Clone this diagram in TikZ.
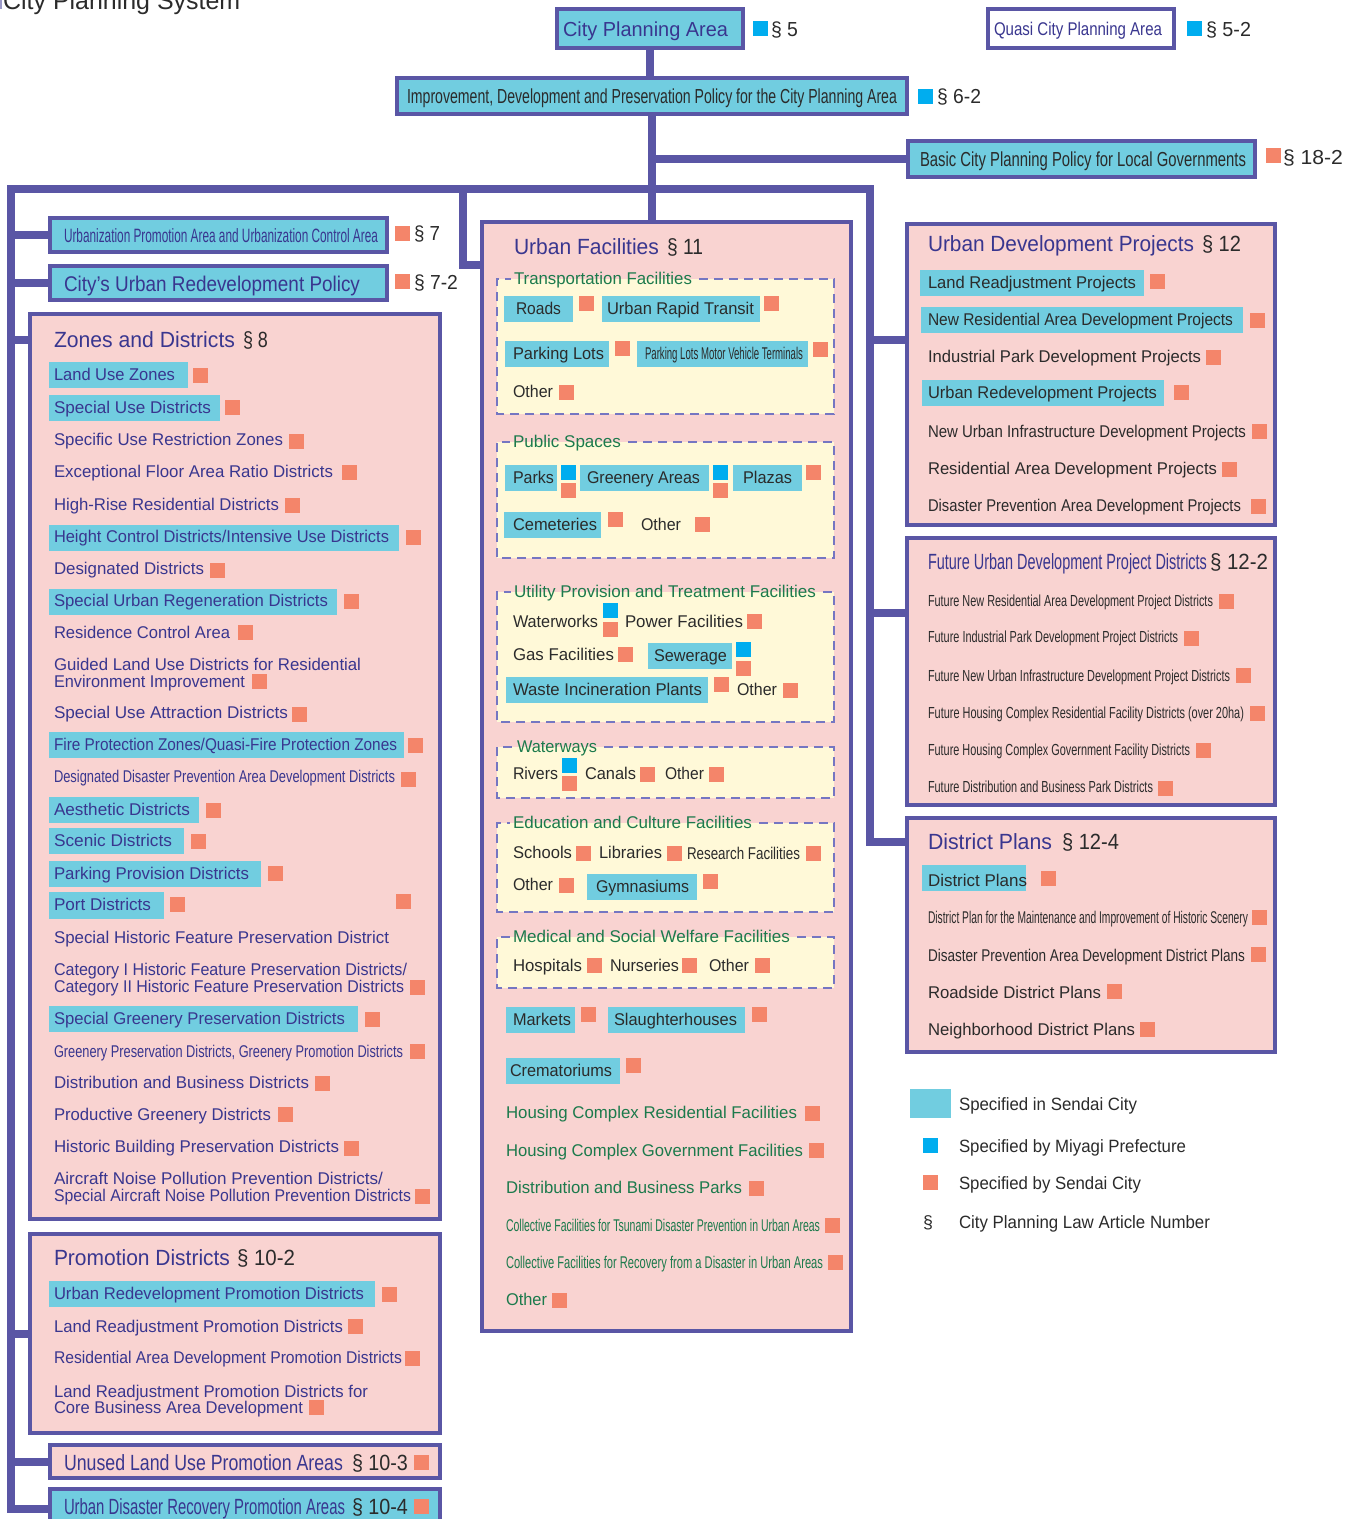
\documentclass[tikz,border=0pt]{standalone}
\usepackage{fontspec}
\setmainfont{Liberation Sans}
\usepackage{graphicx}
\definecolor{purp}{HTML}{5A56A5}
\definecolor{cyf}{HTML}{71CDE0}
\definecolor{pkf}{HTML}{F9D3D1}
\definecolor{org}{HTML}{F4856A}
\definecolor{blu}{HTML}{00ADEF}
\definecolor{ylf}{HTML}{FFF9D8}
\definecolor{dshc}{HTML}{7576C2}
\definecolor{nav}{HTML}{39368F}
\definecolor{grn}{HTML}{1C7A4C}
\definecolor{dk}{HTML}{2B2B2B}
\newcommand\W[2]{\resizebox{#1pt}{\height}{#2}}
\newcommand\osq[2]{\fill[org] (#1,#2) rectangle ++(15,15);}
\newcommand\bsq[2]{\fill[blu] (#1,#2) rectangle ++(15,15);}
\newcommand\hlr[4]{\fill[cyf] (#1,#2) rectangle (#3,#4);}
\newcommand\tn[6][itm]{\node[#1] (#2) at (#3,#4) {\W{#5}{#6}};}
\newcommand\grp[4]{\fill[ylf] (497,#1) rectangle (834,#2);
  \draw[dsh] (#4+7,#1) -- (834,#1) -- (834,#2) -- (497,#2) -- (497,#1) -- (#3-3,#1);}
\tikzset{
 fs/.style 2 args={inner sep=0pt, outer sep=0pt, anchor=west, font=\fontsize{#1}{#1}\selectfont, text height=#2pt, text depth=4pt},
 itm/.style={fs={17}{15.7}, text=nav},
 itd/.style={fs={17}{15.7}, text=dk},
 itg/.style={fs={17}{15.7}, text=grn},
 fut/.style={fs={16}{15}, text=dk},
 ttl/.style={fs={22}{19.2}, text=nav},
 ttd/.style={fs={22}{19.2}, text=dk},
 tpn/.style={fs={20.3}{18}, text=nav},
 tpd/.style={fs={20.3}{18}, text=dk},
 lg/.style={fs={17.8}{16.3}, text=dk},
 bx/.style={draw=purp, line width=4pt, inner sep=0pt, outer sep=0pt, anchor=north west},
 cn/.style={draw=purp, line width=8pt},
 dsh/.style={draw=dshc, line width=2pt, dash pattern=on 9pt off 6pt},
}
\begin{document}
\begin{tikzpicture}[x=1pt,y=-1pt]
\useasboundingbox (0,0) rectangle (1352,1519);
\clip (0,0) rectangle (1352,1519);
\fill[white] (0,0) rectangle (1352,1519);
% title
\fill[purp!60] (0,0) rectangle (2,9);
\node[font=\fontsize{25}{25}\selectfont, inner sep=0pt, anchor=base west, text=dk] (sys) at (3,9.5) {\W{237}{City Planning System}};

% ---------- boxes ----------
\node[bx,fill=cyf,minimum width=186pt,minimum height=39pt] (cpa) at (557,9) {};
\node[bx,fill=white,minimum width=186pt,minimum height=39pt] (qcpa) at (988,9) {};
\node[bx,fill=cyf,minimum width=510pt,minimum height=36pt] (imp) at (397,78) {};
\node[bx,fill=cyf,minimum width=347pt,minimum height=36pt] (bas) at (908,141) {};
\node[bx,fill=cyf,minimum width=337pt,minimum height=34pt] (upa) at (50,218) {};
\node[bx,fill=cyf,minimum width=337pt,minimum height=34pt] (cur) at (50,266) {};
\node[bx,fill=pkf,minimum width=410pt,minimum height=905pt] (zd) at (30,314) {};
\node[bx,fill=pkf,minimum width=410pt,minimum height=199pt] (pd) at (30,1234) {};
\node[bx,fill=pkf,minimum width=390pt,minimum height=33pt] (ul) at (50,1445) {};
\node[bx,fill=cyf,minimum width=390pt,minimum height=40pt] (udr) at (50,1489) {};
\node[bx,fill=pkf,minimum width=369pt,minimum height=1109pt] (uf) at (482,222) {};
\node[bx,fill=pkf,minimum width=368pt,minimum height=301pt] (udp) at (907,224) {};
\node[bx,fill=pkf,minimum width=368pt,minimum height=267pt] (fud) at (907,538) {};
\node[bx,fill=pkf,minimum width=368pt,minimum height=234pt] (dp) at (907,818) {};

% ---------- top ----------
\tn[tpn]{cpat}{563}{29}{165}{City Planning Area}
\bsq{753}{21}\tn[tpd]{s5}{771}{29}{27}{§ 5}
\tn[fs={18.4}{16.7},text=nav]{qcpat}{994}{29}{168}{Quasi City Planning Area}
\bsq{1187}{21}\tn[tpd]{s52}{1206}{29}{45}{§ 5-2}
\tn[tpd]{impt}{407}{96}{490}{Improvement, Development and Preservation Policy for the City Planning Area}
\bsq{918}{89}\tn[tpd]{s62}{937}{96}{44}{§ 6-2}
\tn[tpd]{bast}{920}{159}{326}{Basic City Planning Policy for Local Governments}
\osq{1266}{148}\tn[tpd]{s182}{1283}{157}{60}{§ 18-2}

% ---------- top left ----------
\tn[fs={19.3}{17.3},text=nav]{upat}{64}{236}{314}{Urbanization Promotion Area and Urbanization Control Area}
\osq{395}{226}\tn[tpd]{s7}{414}{233}{26}{§ 7}
\tn[fs={21.3}{18.7},text=nav]{curt}{64}{284}{296}{City’s Urban Redevelopment Policy}
\osq{395}{274}\tn[tpd]{s72}{414}{282}{44}{§ 7-2}

% ---------- zones and districts ----------
\tn[ttl]{zdt}{54}{340}{181}{Zones and Districts}
\tn[ttd]{s8}{243}{340}{25}{§ 8}
\hlr{49}{362}{188}{388}\tn{z1}{54}{375}{121}{Land Use Zones}\osq{193}{368}
\hlr{49}{395}{220}{421}\tn{z2}{54}{408}{157}{Special Use Districts}\osq{225}{400}
\tn{z3}{54}{440}{229}{Specific Use Restriction Zones}\osq{289}{434}
\tn{z4}{54}{472}{279}{Exceptional Floor Area Ratio Districts}\osq{342}{465}
\tn{z5}{54}{505}{225}{High-Rise Residential Districts}\osq{285}{498}
\hlr{49}{525}{399}{551}\tn{z6}{54}{537}{335}{Height Control Districts/Intensive Use Districts}\osq{406}{530}
\tn{z7}{54}{569}{150}{Designated Districts}\osq{210}{563}
\hlr{49}{589}{337}{615}\tn{z8}{54}{601}{274}{Special Urban Regeneration Districts}\osq{344}{594}
\tn{z9}{54}{633}{176}{Residence Control Area}\osq{238}{625}
\tn{z10a}{54}{665}{307}{Guided Land Use Districts for Residential}
\tn{z10b}{54}{682}{191}{Environment Improvement}\osq{252}{674}
\tn{z11}{54}{713}{234}{Special Use Attraction Districts}\osq{292}{707}
\hlr{49}{732}{404}{758}\tn{z12}{54}{745}{343}{Fire Protection Zones/Quasi-Fire Protection Zones}\osq{408}{738}
\tn{z13}{54}{777}{341}{Designated Disaster Prevention Area Development Districts}\osq{401}{772}
\hlr{49}{797}{199}{823}\tn{z14}{54}{810}{136}{Aesthetic Districts}\osq{206}{803}
\hlr{49}{828}{184}{854}\tn{z15}{54}{841}{118}{Scenic Districts}\osq{191}{834}
\hlr{49}{861}{261}{887}\tn{z16}{54}{874}{195}{Parking Provision Districts}\osq{268}{866}
\hlr{49}{892}{164}{919}\tn{z17}{54}{905}{97}{Port Districts}\osq{170}{897}\osq{396}{894}
\tn{z18}{54}{938}{335}{Special Historic Feature Preservation District}
\tn{z19a}{54}{970}{353}{Category I Historic Feature Preservation Districts/}
\tn{z19b}{54}{987}{350}{Category II Historic Feature Preservation Districts}\osq{410}{980}
\hlr{49}{1006}{358}{1032}\tn{z20}{54}{1019}{291}{Special Greenery Preservation Districts}\osq{365}{1012}
\tn{z21}{54}{1052}{349}{Greenery Preservation Districts, Greenery Promotion Districts}\osq{410}{1044}
\tn{z22}{54}{1083}{255}{Distribution and Business Districts}\osq{315}{1076}
\tn{z23}{54}{1115}{217}{Productive Greenery Districts}\osq{278}{1107}
\tn{z24}{54}{1147}{285}{Historic Building Preservation Districts}\osq{344}{1141}
\tn{z25a}{54}{1179}{329}{Aircraft Noise Pollution Prevention Districts/}
\tn{z25b}{54}{1196}{357}{Special Aircraft Noise Pollution Prevention Districts}\osq{415}{1189}

% ---------- promotion districts ----------
\tn[ttl]{pdt}{54}{1258}{176}{Promotion Districts}
\tn[ttd]{s102}{237}{1258}{58}{§ 10-2}
\hlr{49}{1281}{375}{1307}\tn{p1}{54}{1294}{310}{Urban Redevelopment Promotion Districts}\osq{382}{1287}
\tn{p2}{54}{1327}{289}{Land Readjustment Promotion Districts}\osq{348}{1319}
\tn{p3}{54}{1358}{348}{Residential Area Development Promotion Districts}\osq{405}{1351}
\tn{p4a}{54}{1392}{314}{Land Readjustment Promotion Districts for}
\tn{p4b}{54}{1408}{249}{Core Business Area Development}\osq{309}{1400}

\tn[ttl]{ult}{64}{1463}{279}{Unused Land Use Promotion Areas}
\tn[ttd]{s103}{352}{1463}{56}{§ 10-3}\osq{414}{1455}
\tn[ttl]{udrt}{64}{1507}{281}{Urban Disaster Recovery Promotion Areas}
\tn[ttd]{s104}{352}{1507}{56}{§ 10-4}\osq{414}{1499}

% ---------- urban facilities ----------
\tn[ttl]{uft}{514}{247}{145}{Urban Facilities}
\tn[ttd]{s11}{667}{247}{36}{§ 11}

\grp{279}{414}{514}{692}
\tn[itg]{g1}{514}{279}{178}{Transportation Facilities}
\hlr{504}{296}{573}{322}\tn[itd]{r1}{516}{309}{45}{Roads}\osq{579}{296}
\hlr{602}{296}{760}{322}\tn[itd]{r2}{607}{309}{147}{Urban Rapid Transit}\osq{764}{296}
\hlr{505}{341}{609}{367}\tn[itd]{r3}{513}{354}{91}{Parking Lots}\osq{615}{341}
\hlr{637}{341}{808}{367}\tn[itd]{r4}{645}{354}{158}{Parking Lots Motor Vehicle Terminals}\osq{813}{342}
\tn[itd]{r5}{513}{392}{40}{Other}\osq{559}{385}

\grp{442}{558}{513}{621}
\tn[itg]{g2}{513}{442}{108}{Public Spaces}
\hlr{505}{465}{557}{491}\tn[itd]{q1}{513}{478}{41}{Parks}\bsq{561}{465}\osq{561}{483}
\hlr{580}{465}{709}{491}\tn[itd]{q2}{587}{478}{113}{Greenery Areas}\bsq{713}{465}\osq{713}{483}
\hlr{733}{465}{802}{491}\tn[itd]{q3}{743}{478}{49}{Plazas}\osq{806}{465}
\hlr{504}{512}{601}{538}\tn[itd]{q4}{513}{525}{84}{Cemeteries}\osq{608}{512}
\tn[itd]{q5}{641}{525}{40}{Other}\osq{695}{517}

\grp{592}{722}{514}{816}
\tn[itg]{g3}{514}{592}{302}{Utility Provision and Treatment Facilities}
\tn[itd]{v1}{513}{622}{85}{Waterworks}\bsq{603}{603}\osq{603}{622}
\tn[itd]{v2}{625}{622}{118}{Power Facilities}\osq{747}{614}
\tn[itd]{v3}{513}{655}{101}{Gas Facilities}\osq{618}{647}
\hlr{648}{643}{732}{669}\tn[itd]{v4}{654}{656}{73}{Sewerage}\bsq{736}{642}\osq{736}{661}
\hlr{506}{677}{708}{703}\tn[itd]{v5}{513}{690}{189}{Waste Incineration Plants}\osq{714}{677}
\tn[itd]{v6}{737}{690}{40}{Other}\osq{783}{683}

\grp{747}{798}{517}{597}
\tn[itg]{g4}{517}{747}{80}{Waterways}
\tn[itd]{w1}{513}{774}{45}{Rivers}\bsq{562}{758}\osq{562}{776}
\tn[itd]{w2}{585}{774}{51}{Canals}\osq{640}{767}
\tn[itd]{w3}{665}{774}{39}{Other}\osq{709}{767}

\grp{823}{912}{513}{752}
\tn[itg]{g5}{513}{823}{239}{Education and Culture Facilities}
\tn[itd]{e1}{513}{853}{59}{Schools}\osq{576}{846}
\tn[itd]{e2}{599}{853}{63}{Libraries}\osq{667}{846}
\tn[itd]{e3}{687}{854}{113}{Research Facilities}\osq{806}{846}
\tn[itd]{e4}{513}{885}{40}{Other}\osq{559}{878}
\hlr{587}{874}{697}{900}\tn[itd]{e5}{596}{887}{93}{Gymnasiums}\osq{703}{874}

\grp{937}{988}{513}{790}
\tn[itg]{g6}{513}{937}{277}{Medical and Social Welfare Facilities}
\tn[itd]{m1}{513}{966}{69}{Hospitals}\osq{587}{958}
\tn[itd]{m2}{610}{966}{69}{Nurseries}\osq{682}{958}
\tn[itd]{m3}{709}{966}{40}{Other}\osq{755}{958}

\hlr{506}{1007}{575}{1033}\tn[itd]{k1}{513}{1020}{58}{Markets}\osq{581}{1007}
\hlr{608}{1007}{745}{1033}\tn[itd]{k2}{614}{1020}{123}{Slaughterhouses}\osq{752}{1007}
\hlr{506}{1058}{620}{1084}\tn[itd]{k3}{510}{1071}{102}{Crematoriums}\osq{626}{1058}
\tn[itg]{k4}{506}{1113}{291}{Housing Complex Residential Facilities}\osq{805}{1106}
\tn[itg]{k5}{506}{1151}{297}{Housing Complex Government Facilities}\osq{809}{1143}
\tn[itg]{k6}{506}{1188}{236}{Distribution and Business Parks}\osq{749}{1181}
\tn[itg]{k7}{506}{1226}{314}{Collective Facilities for Tsunami Disaster Prevention in Urban Areas}\osq{825}{1218}
\tn[itg]{k8}{506}{1263}{317}{Collective Facilities for Recovery from a Disaster in Urban Areas}\osq{828}{1255}
\tn[itg]{k9}{506}{1300}{41}{Other}\osq{552}{1293}

% ---------- urban development projects ----------
\tn[ttl]{udpt}{928}{244}{266}{Urban Development Projects}
\tn[ttd]{s12}{1202}{244}{39}{§ 12}
\hlr{920}{270}{1144}{296}\tn[itd]{u1}{928}{283}{208}{Land Readjustment Projects}\osq{1150}{274}
\hlr{921}{307}{1243}{333}\tn[itd]{u2}{928}{320}{305}{New Residential Area Development Projects}\osq{1250}{313}
\tn[itd]{u3}{928}{357}{273}{Industrial Park Development Projects}\osq{1206}{350}
\hlr{922}{380}{1164}{406}\tn[itd]{u4}{928}{393}{229}{Urban Redevelopment Projects}\osq{1174}{385}
\tn[itd]{u5}{928}{432}{318}{New Urban Infrastructure Development Projects}\osq{1252}{424}
\tn[itd]{u6}{928}{469}{289}{Residential Area Development Projects}\osq{1222}{462}
\tn[itd]{u7}{928}{506}{313}{Disaster Prevention Area Development Projects}\osq{1251}{499}

% ---------- future urban development ----------
\tn[ttl]{fudt}{928}{562}{279}{Future Urban Development Project Districts}
\tn[ttd]{s122}{1210}{562}{58}{§ 12-2}
\tn[fut]{f1}{928}{601}{285}{Future New Residential Area Development Project Districts}\osq{1219}{594}
\tn[fut]{f2}{928}{637}{250}{Future Industrial Park Development Project Districts}\osq{1184}{631}
\tn[fut]{f3}{928}{676}{302}{Future New Urban Infrastructure Development Project Districts}\osq{1236}{668}
\tn[fut]{f4}{928}{713}{316}{Future Housing Complex Residential Facility Districts (over 20ha)}\osq{1250}{706}
\tn[fut]{f5}{928}{750}{262}{Future Housing Complex Government Facility Districts}\osq{1196}{743}
\tn[fut]{f6}{928}{787}{225}{Future Distribution and Business Park Districts}\osq{1158}{781}

% ---------- district plans ----------
\tn[ttl]{dpt}{928}{842}{124}{District Plans}
\tn[ttd]{s124}{1062}{842}{57}{§ 12-4}
\hlr{922}{865}{1026}{891}\tn[itd]{d1}{928}{881}{99}{District Plans}\osq{1041}{871}
\tn[itd]{d2}{928}{918}{320}{District Plan for the Maintenance and Improvement of Historic Scenery}\osq{1252}{910}
\tn[itd]{d3}{928}{956}{317}{Disaster Prevention Area Development District Plans}\osq{1251}{947}
\tn[itd]{d4}{928}{993}{173}{Roadside District Plans}\osq{1107}{984}
\tn[itd]{d5}{928}{1030}{207}{Neighborhood District Plans}\osq{1140}{1022}

% ---------- legend ----------
\fill[cyf] (910,1089) rectangle (951,1118);
\tn[lg]{l1}{959}{1104}{178}{Specified in Sendai City}
\bsq{923}{1138}\tn[lg]{l2}{959}{1146}{227}{Specified by Miyagi Prefecture}
\osq{923}{1175}\tn[lg]{l3}{959}{1183}{182}{Specified by Sendai City}
\node[lg] (l4s) at (923,1222) {§};
\tn[lg]{l4}{959}{1222}{251}{City Planning Law Article Number}

% ---------- connectors ----------
\coordinate (tl) at (11,189);
\coordinate (tr) at (870,189);
\coordinate (ufk) at (463,189);
\draw[cn] (udr.west) -- (udr.west -| tl) -- (tl) -- (tr) -- (tr |- dpt.west) -- (dp.west |- dpt.west);
\draw[cn] (tl |- upa.west) -- (upa.west);
\draw[cn] (tl |- cur.west) -- (cur.west);
\draw[cn] (tl |- zdt.west) -- (zd.west |- zdt.west);
\draw[cn] (tl |- pd.west) -- (pd.west);
\draw[cn] (tl |- ul.west) -- (ul.west);
\draw[cn] (cpa.south) -- (cpa.south |- imp.north);
\draw[cn] (imp.south) -- (imp.south |- uf.north);
\draw[cn] (imp.south |- bas.west) -- (bas.west);
\draw[cn] (ufk) -- (ufk |- 0,265) -- (uf.west |- 0,265);
\draw[cn] (tr |- 0,340) -- (udp.west |- 0,340);
\draw[cn] (tr |- 0,613) -- (fud.west |- 0,613);
\end{tikzpicture}
\end{document}
